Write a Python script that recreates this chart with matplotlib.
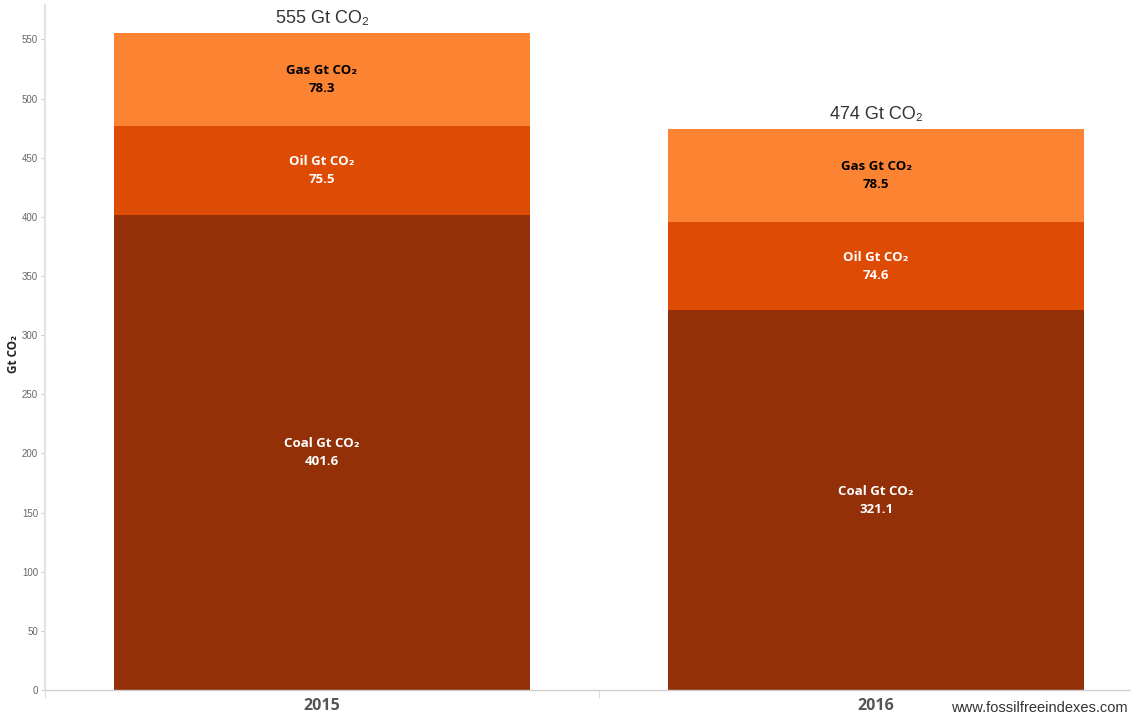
import numpy as np
import matplotlib

matplotlib.use("Agg")
import matplotlib.pyplot as plt

# Emissions embedded in fossil fuel reserves, by fuel and year
years = ["2015", "2016"]
coal = [401.6, 321.1]
oil = [75.5, 74.6]
gas = [78.3, 78.5]
totals = [555, 474]

SERIES = [
    ("Coal Gt CO\u2082", coal, "#933008", "white"),
    ("Oil Gt CO\u2082", oil, "#DE4B05", "white"),
    ("Gas Gt CO\u2082", gas, "#FB8332", "black"),
]
LABEL_FONT = ["Open Sans", "DejaVu Sans"]
SANS_FONT = ["Liberation Sans", "DejaVu Sans"]

fig = plt.figure(figsize=(11.31, 7.21), dpi=100)
ax = fig.add_axes([0.0398, 0.043, 0.9602, 0.950])

x = np.arange(len(years))
bottom = np.zeros(len(years))
for name, vals, color, txt in SERIES:
    vals = np.asarray(vals)
    ax.bar(x, vals, width=0.75, bottom=bottom, color=color, linewidth=0)
    for xi, b, v in zip(x, bottom, vals):
        ax.text(xi, b + v / 2, f"{name}\n{v:.1f}", ha="center", va="center",
                color=txt, fontsize=9.5, fontweight="bold", family=LABEL_FONT,
                linespacing=1.5)
    bottom += vals

# stack totals above each bar
for xi, top, tot in zip(x, bottom, totals):
    ax.text(xi, top + 5, f"{tot} Gt CO\u2082", ha="center", va="bottom",
            fontsize=13, color="#333333", family=SANS_FONT,
            fontstretch="condensed")

ax.set_xlim(-0.5, 1.46)
ax.set_ylim(0, 579)
ax.set_yticks(np.arange(0, 551, 50))
ax.tick_params(axis="y", labelsize=7, labelcolor="#666666", color="#cccccc",
               length=3, width=0.8, pad=2)
for lbl in ax.get_yticklabels():
    lbl.set_family(SANS_FONT)
ax.set_xticks(x)
ax.set_xticklabels(years, fontsize=11.5, fontweight="bold", color="#555555",
                   family=LABEL_FONT)
ax.tick_params(axis="x", length=0, pad=6)
ax.set_xticks([-0.5, 0.5], minor=True)
ax.tick_params(axis="x", which="minor", length=6, color="#dddddd", width=0.8)

for side in ("top", "right"):
    ax.spines[side].set_visible(False)
ax.spines["left"].set_color("#e3e3e3")
ax.spines["left"].set_linewidth(1.5)
ax.spines["bottom"].set_color("#cfcfcf")
ax.spines["bottom"].set_linewidth(1.0)

ax.set_ylabel("Gt CO\u2082", fontsize=8.5, fontweight="bold", color="#222222",
              family=LABEL_FONT)
ax.yaxis.set_label_coords(-0.023, 0.49)

fig.text(0.997, 0.008, "www.fossilfreeindexes.com", ha="right", va="bottom",
         fontsize=10.5, color="#333333", family=SANS_FONT)

fig.savefig("out.png", dpi=100)
